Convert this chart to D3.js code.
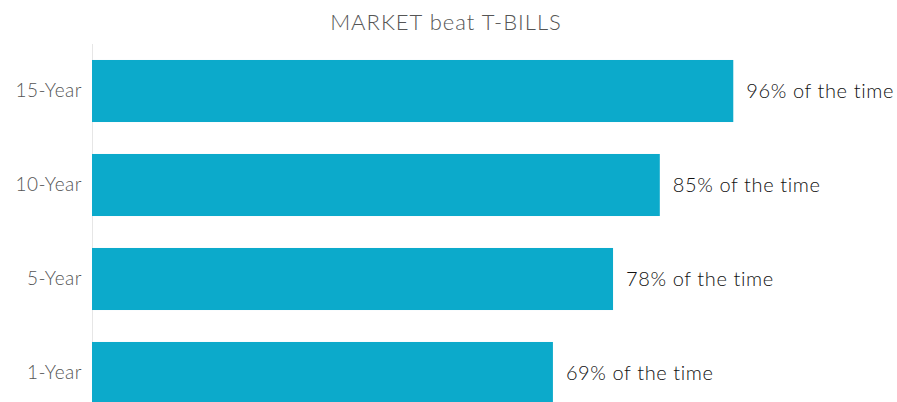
<!DOCTYPE html>
<html>
<head>
<meta charset="utf-8">
<script src="https://cdn.jsdelivr.net/npm/d3@7"></script>
<style>
  body { margin: 0; background: #fff; }
  svg { display: block; font-family: Lato, "Open Sans", sans-serif; }
</style>
</head>
<body>
<svg id="bar_svg" width="897" height="402"></svg>
<script>
// chart data
const categories = ['15-Year', '10-Year', '5-Year', '1-Year'];
const values = [96, 85, 78, 69];
const title = 'MARKET beat T-BILLS';

function createBarChart(){
    const svg = d3.select('#bar_svg');
    const width = +svg.attr('width');
    const height = +svg.attr('height');
    const margin = { top: 44, left: 92 };

    const data = categories.map((c, i) => ({ cat: c, val: values[i] }));

    //x scale - percent
    const xScale = d3.scaleLinear()
            .domain([0, 100])
            .range([margin.left, margin.left + 668]);

    //y scale - one band per horizon
    const yScale = d3.scaleBand()
            .domain(categories)
            .range([margin.top, margin.top + 376])
            .paddingInner(0.34)
            .paddingOuter(0.17);

    //title
    svg.append('text')
        .attr('x', 446)
        .attr('y', 30)
        .attr('text-anchor', 'middle')
        .style('font-size', '22px')
        .style('font-weight', 300)
        .style('letter-spacing', '1px')
        .style('fill', '#555')
        .text(title);

    //y axis (only the line and labels)
    const yAxis = d3.axisLeft(yScale).tickSize(0).tickPadding(10);
    const ax = svg.append('g')
        .attr('transform', `translate(${margin.left},0)`)
        .call(yAxis);
    ax.select('.domain')
        .attr('d', `M0.5,${margin.top}V${height}`)
        .attr('stroke', '#e6e6e6');
    ax.selectAll('.tick text')
        .style('font-family', 'Lato, sans-serif')
        .style('font-size', '19px')
        .style('font-weight', 300)
        .style('letter-spacing', '0.5px')
        .style('fill', '#555');

    //bars
    svg.selectAll('.bar')
        .data(data)
        .enter()
        .append('rect')
        .attr('class', 'bar')
        .attr('fill', '#0caacb')
        .attr('x', xScale(0))
        .attr('y', d => yScale(d.cat))
        .attr('width', d => xScale(d.val) - xScale(0))
        .attr('height', yScale.bandwidth());

    //value labels
    svg.selectAll('.val')
        .data(data)
        .enter()
        .append('text')
        .attr('class', 'val')
        .attr('x', d => xScale(d.val) + 13)
        .attr('y', d => yScale(d.cat) + yScale.bandwidth() / 2)
        .attr('dy', '0.36em')
        .style('font-size', '20px')
        .style('font-weight', 300)
        .style('letter-spacing', '0.6px')
        .style('fill', '#111')
        .text(d => d.val + '% of the time');
}

createBarChart();
</script>
</body>
</html>
